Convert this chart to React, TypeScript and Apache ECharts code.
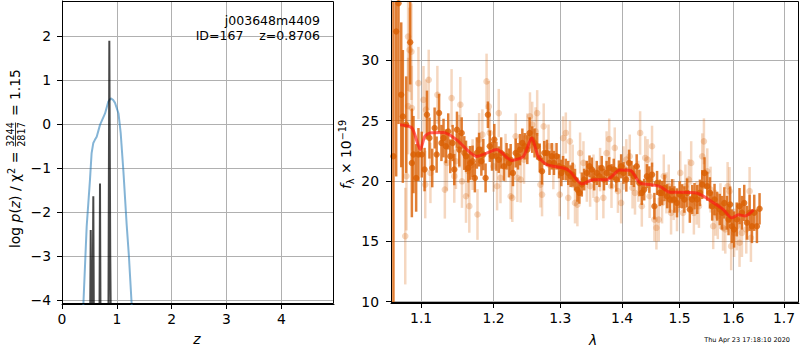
import { useEffect, useRef } from "react";
import * as echarts from "echarts";

const FONT = '"DejaVu Sans", sans-serif';

// ---- left panel: redshift probability ----
const zTicks = [0, 1, 2, 3, 4];
const logpTicks = [-4, -3, -2, -1, 0, 1, 2];
const chi2Z = [0.36, 0.39, 0.45, 0.51, 0.54, 0.571, 0.6, 0.633, 0.693, 0.785, 0.845, 0.89, 0.93, 0.967, 1.03, 1.07, 1.12, 1.18, 1.22, 1.27, 1.3];
const chi2LogP = [-4.9, -4.09, -2.33, -1.27, -0.66, -0.43, -0.36, -0.29, -0.02, 0.24, 0.51, 0.58, 0.55, 0.48, 0.24, -0.2, -1.08, -2.3, -3.0, -4.09, -4.7];
const pzZ = [0.5, 0.524, 0.545, 0.555, 0.571, 0.59, 0.675, 0.693, 0.71, 0.84, 0.863, 0.88, 0.9, 0.92];
const pzLogP = [-7, -2.41, -7, -7, -1.64, -7, -7, -1.35, -7, -7, 1.89, -3.0, -6, -7];

// ---- right panel: spectrum ----
const lamTicks = [1.1, 1.2, 1.3, 1.4, 1.5, 1.6, 1.7];
const fluxTicks = [10, 15, 20, 25, 30];

const darkLam = [
  1.0641, 1.0676, 1.0706, 1.0741, 1.0762, 1.0805, 1.0857, 1.0879, 1.09, 1.0935,
  1.0965, 1.1009, 1.1046, 1.1078, 1.1111, 1.1148, 1.118, 1.1207, 1.124, 1.1272,
  1.13, 1.1332, 1.1364, 1.1392, 1.1424, 1.1447, 1.1484, 1.1516, 1.1549, 1.1585,
  1.1609, 1.1641, 1.1668, 1.1701, 1.1733, 1.1761, 1.1793, 1.1825, 1.1853, 1.1885,
  1.1918, 1.1945, 1.1977, 1.201, 1.204, 1.2074, 1.2109, 1.2149, 1.2188, 1.2223,
  1.2248, 1.2282, 1.2322, 1.2356, 1.2386, 1.2421, 1.2455, 1.2495, 1.253, 1.2569,
  1.2604, 1.2644, 1.2683, 1.2718, 1.2752, 1.2792, 1.2832, 1.2866, 1.2901, 1.2941,
  1.298, 1.3016, 1.3043, 1.3086, 1.3124, 1.3161, 1.3194, 1.3231, 1.3269, 1.3301,
  1.3339, 1.3377, 1.342, 1.3463, 1.35, 1.3538, 1.3581, 1.3624, 1.3662, 1.3699,
  1.3742, 1.3785, 1.3823, 1.386, 1.3903, 1.3946, 1.3984, 1.4024, 1.4071, 1.4118,
  1.4159, 1.42, 1.4247, 1.4294, 1.4335, 1.4376, 1.4423, 1.4465, 1.4512, 1.4553,
  1.46, 1.4647, 1.4688, 1.473, 1.4777, 1.4824, 1.4865, 1.4906, 1.4953, 1.5,
  1.5043, 1.5086, 1.5136, 1.5185, 1.5228, 1.5271, 1.5321, 1.537, 1.5413, 1.5456,
  1.5506, 1.5555, 1.5598, 1.5642, 1.5691, 1.574, 1.5784, 1.5827, 1.5876, 1.5907,
  1.5938, 1.5969, 1.6013, 1.6065, 1.6118, 1.6164, 1.6209, 1.6262, 1.6314, 1.636,
  1.6405, 1.6458, 1.651,
];
const darkFlux = [
  22.04, 32.37, 34.71, 27.13, 25.34, 24.66, 31.49, 21.49, 22.18, 20.25,
  22.18, 22.18, 20.94, 25.48, 23.55, 21.07, 24.38, 22.18, 25.62, 23.14,
  23.55, 22.87, 24.1, 22.04, 23.14, 20.94, 24.24, 22.59, 23.97, 22.31,
  22.04, 21.07, 21.49, 21.63, 20.25, 22.31, 22.59, 21.63, 22.18, 20.25,
  25.48, 22.87, 22.04, 23.42, 22.04, 21.76, 22.31, 21.21, 22.04, 21.49,
  21.76, 20.66, 22.31, 22.04, 22.59, 23.14, 22.87, 22.59, 23.97, 23.42,
  23.14, 22.87, 21.9, 20.8, 22.31, 22.31, 21.49, 22.04, 21.49, 22.04,
  21.21, 20.66, 21.07, 20.94, 20.66, 20.39, 20.52, 20.11, 19.28, 19.01,
  19.7, 20.11, 20.66, 21.21, 20.94, 20.11, 20.66, 20.39, 21.07, 20.11,
  20.66, 21.07, 20.39, 20.94, 20.11, 20.8, 21.21, 20.66, 20.11, 21.49,
  20.66, 20.39, 21.21, 19.83, 19.01, 19.28, 20.39, 20.11, 20.52, 17.91,
  19.83, 19.01, 19.01, 19.42, 18.73, 18.46, 19.15, 18.46, 18.18, 18.87,
  18.73, 18.46, 19.01, 17.63, 18.46, 18.73, 18.46, 19.01, 19.7, 20.66,
  19.56, 19.01, 17.91, 18.46, 17.91, 17.63, 17.36, 18.18, 17.36, 16.8,
  18.04, 16.25, 15.98, 16.8, 17.91, 17.36, 18.18, 16.53, 17.36, 16.25,
  17.36, 16.25, 17.69,
];
const darkErr = [
  14, 12, 10, 6, 5.5, 4, 3.5, 4.5, 3.2, 2.8,
  2.2, 1.9, 1.8, 2.0, 1.7, 1.6, 1.7, 1.5, 1.6, 1.5,
  1.6, 1.4, 1.5, 1.4, 1.5, 1.3, 1.5, 1.4, 1.3, 1.4,
  1.3, 1.2, 1.4, 1.3, 1.2, 1.3, 1.4, 1.2, 1.3, 1.2,
  1.1, 1.3, 1.2, 1.3, 1.2, 1.1, 1.3, 1.2, 1.1, 1.2,
  1.3, 1.1, 1.2, 1.1, 1.3, 1.2, 1.1, 1.2, 1.3, 1.1,
  1.2, 1.1, 1.2, 1.1, 1.0, 1.1, 1.0, 1.1, 1.0, 1.1,
  1.0, 1.1, 1.0, 0.9, 1.0, 0.9, 1.0, 0.9, 1.0, 0.9,
  1.0, 0.9, 1.0, 0.9, 1.0, 0.9, 1.0, 0.9, 1.0, 0.9,
  1.0, 0.9, 1.0, 0.9, 1.0, 0.9, 1.0, 0.9, 1.0, 1.1,
  1.0, 0.9, 1.0, 1.1, 1.0, 0.9, 1.0, 1.1, 1.0, 1.1,
  1.0, 1.1, 1.0, 1.1, 1.0, 1.1, 1.0, 1.1, 1.2, 1.1,
  1.0, 1.1, 1.2, 1.1, 1.2, 1.1, 1.2, 1.1, 1.2, 1.3,
  1.2, 1.3, 1.2, 1.3, 1.2, 1.3, 1.4, 1.3, 1.4, 1.3,
  1.5, 1.4, 1.5, 1.4, 1.5, 1.4, 1.5, 1.4, 1.5, 1.4,
  1.5, 1.4, 1.3,
];

const lightLam = [
  1.0808, 1.083, 1.083, 1.0873,
  1.0793, 1.0849, 1.0879, 1.0965, 1.1032, 1.1055, 1.1065, 1.1101, 1.1124, 1.1217,
  1.1318, 1.1346, 1.141, 1.1447, 1.147, 1.1516, 1.153, 1.1553, 1.1609, 1.1641,
  1.1655, 1.1701, 1.177, 1.1793, 1.1839, 1.1899, 1.1931, 1.1945, 1.2, 1.205,
  1.2074, 1.2099, 1.2173, 1.2248, 1.2272, 1.2322, 1.2347, 1.2396, 1.2446, 1.2495,
  1.2535, 1.2569, 1.2619, 1.2644, 1.2693, 1.2718, 1.2743, 1.2817, 1.2891, 1.299,
  1.3043, 1.3086, 1.3124, 1.3151, 1.3194, 1.3231, 1.3269, 1.3312, 1.3366, 1.342,
  1.3473, 1.3527, 1.3581, 1.3635, 1.3689, 1.3742, 1.3785, 1.3823, 1.3877, 1.393,
  1.3984, 1.4024, 1.4071, 1.4129, 1.4176, 1.4218, 1.4276, 1.4306, 1.4335, 1.4394,
  1.4435, 1.447, 1.4512, 1.4553, 1.4588, 1.4629, 1.4688, 1.4718, 1.4765, 1.4806,
  1.4847, 1.4894, 1.4953, 1.5012, 1.5062, 1.5105, 1.5167, 1.521, 1.5259, 1.5308,
  1.5352, 1.5413, 1.5444, 1.5506, 1.5568, 1.5617, 1.566, 1.5703, 1.5753, 1.5802,
  1.5845, 1.5889, 1.5926, 1.5957, 1.6013, 1.6065, 1.6118, 1.6164, 1.6249, 1.6314,
  1.634,
];
const lightFlux = [
  20.4, 31.95, 26.2, 30.7,
  15.43, 30.85, 26.03, 28.1, 26.72, 19.7, 25.9, 28.37, 20.66, 27.13,
  19.28, 21.49, 26.86, 20.39, 21.63, 23.28, 26.31, 19.97, 18.73, 20.8,
  17.91, 21.35, 17.22, 23.42, 23.83, 28.24, 26.17, 23.97, 21.21, 19.56,
  25.62, 20.25, 21.9, 18.73, 18.6, 23.69, 20.25, 20.11, 21.76, 23.69,
  25.34, 24.66, 24.1, 25.62, 19.7, 18.87, 24.52, 22.87, 21.21, 18.87,
  23.55, 23.97, 18.6, 23.28, 21.21, 18.18, 18.04, 22.31, 21.49, 19.97,
  19.56, 20.39, 18.46, 20.94, 18.6, 22.31, 23.47, 19.56, 22.73, 19.15,
  18.18, 21.07, 21.76, 22.04, 19.42, 19.01, 19.97, 23.97, 17.91, 21.9,
  21.76, 18.73, 22.87, 16.8, 16.12, 16.8, 18.18, 20.39, 19.01, 19.56,
  17.36, 18.46, 17.63, 20.66, 17.36, 19.56, 20.11, 21.49, 17.36, 18.18,
  17.91, 22.04, 23.28, 20.8, 19.28, 16.25, 17.36, 17.08, 17.91, 16.12,
  15.98, 19.56, 19.15, 14.6, 15.7, 16.25, 14.88, 15.7, 15.98, 19.15,
  15.29,
];
const lightErr = [
  4.5, 4.5, 4, 4,
  4, 3.5, 3.5, 3, 2.8, 2.8, 2.5, 2.5, 2.5, 2.4,
  2.4, 2.3, 2.4, 2.2, 2.3, 2.2, 2.3, 2.2, 2.2, 2.1,
  2.2, 2.1, 2.1, 2.2, 2.1, 2.3, 2.1, 2.0, 2.1, 2.0,
  2.0, 2.1, 2.0, 1.9, 2.0, 1.9, 2.0, 1.9, 2.0, 1.9,
  2.0, 1.9, 2.0, 1.9, 1.9, 1.8, 1.9, 1.8, 1.9, 1.8,
  1.8, 1.7, 1.8, 1.7, 1.8, 1.7, 1.8, 1.7, 1.8, 1.7,
  1.7, 1.8, 1.7, 1.8, 1.7, 1.8, 1.7, 1.8, 1.7, 1.8,
  1.7, 1.8, 1.7, 1.8, 1.7, 1.8, 1.7, 1.8, 1.7, 1.8,
  1.7, 1.8, 1.7, 1.8, 1.8, 1.8, 1.7, 1.8, 1.7, 1.8,
  1.8, 1.7, 1.8, 1.8, 1.7, 1.8, 1.7, 1.8, 1.8, 1.8,
  1.8, 1.9, 1.9, 1.9, 1.9, 1.9, 1.9, 1.9, 1.9, 1.9,
  2.0, 2.0, 2.0, 2.0, 2.0, 2.0, 2.0, 2.0, 2.0, 2.0,
  2.0,
];

const modelLam = [
  1.0726, 1.088, 1.099, 1.105, 1.112, 1.13, 1.148, 1.176, 1.19, 1.2045,
  1.2264, 1.2436, 1.2562, 1.266, 1.279, 1.3047, 1.315, 1.3258, 1.3338, 1.3525,
  1.3744, 1.3964, 1.4133, 1.4303, 1.4476, 1.465, 1.4827, 1.5006, 1.531, 1.562,
  1.5808, 1.5968, 1.6096, 1.6225, 1.639,
];
const modelFlux = [
  24.65, 24.38, 22.6, 23.7, 23.97, 24.0, 23.4, 22.03, 22.3, 22.6,
  21.7, 22.03, 23.55, 22.03, 21.35, 21.07, 20.8, 20.1, 19.75, 20.1,
  20.1, 20.9, 20.88, 19.83, 19.7, 19.55, 19.06, 19.06, 19.0, 18.2,
  17.63, 16.94, 17.2, 17.1, 17.6,
];

const titleLines = ["j003648m4409", "ID=167    z=0.8706"];
const timestamp = "Thu Apr 23 17:18:10 2020";

const minusFmt = (v: number) => (v < 0 ? "\u2212" + Math.abs(v) : String(v));

function errSeries(lam: number[], flux: number[], err: number[], color: string, z: number, lw: number, r: number) {
  return {
    type: "custom",
    xAxisIndex: 1,
    yAxisIndex: 1,
    z,
    silent: true,
    data: lam.map((l, i) => [Math.log(l), flux[i], err[i]]),
    renderItem: (params: any, api: any) => {
      const cs = params.coordSys;
      const lx = api.value(0);
      const f = api.value(1);
      const e = api.value(2);
      const p = api.coord([lx, f]);
      const hi = api.coord([lx, f + e]);
      const lo = api.coord([lx, f - e]);
      const top = Math.max(cs.y, hi[1]);
      const bot = Math.min(cs.y + cs.height, lo[1]);
      const children: any[] = [];
      if (bot > top) {
        children.push({
          type: "line",
          shape: { x1: p[0], y1: top, x2: p[0], y2: bot },
          style: { stroke: color, lineWidth: lw },
        });
      }
      if (p[1] >= cs.y && p[1] <= cs.y + cs.height) {
        children.push({
          type: "circle",
          shape: { cx: p[0], cy: p[1], r },
          style: { fill: color },
        });
      }
      return { type: "group", children };
    },
  };
}

const tickLabel = { fontFamily: FONT, fontSize: 13.9, color: "#000" };

const PANELS = [
  { left: 62, top: 1, width: 272, height: 303 },
  { left: 391, top: 1, width: 408, height: 302 },
];

export default function App() {
  const ref = useRef<HTMLDivElement>(null);
  useEffect(() => {
    if (!ref.current) return;
    const chart = echarts.init(ref.current, null, { renderer: "svg" });
    const lamMin = Math.log(1.061);
    const lamMax = Math.log(1.731);
    const lamLogTicks = lamTicks.map((t) => Math.log(t));
    const gridLine = { show: true, lineStyle: { color: "#b0b0b0", width: 1 } };
    const axisLine = { show: true, onZero: false, lineStyle: { color: "#000", width: 1 } };
    const axisTick = (vals: number[]) => ({
      show: true,
      inside: false,
      length: 5,
      lineStyle: { color: "#000", width: 1 },
      customValues: vals,
    });
    const option: any = {
      animation: false,
      backgroundColor: "#fff",
      grid: PANELS,
      xAxis: [
        {
          type: "value",
          gridIndex: 0,
          min: 0,
          max: 4.96,
          axisLine,
          axisTick: axisTick(zTicks),
          axisLabel: { ...tickLabel, margin: 8, customValues: zTicks, formatter: (v: number) => minusFmt(v) },
          splitLine: gridLine,
        },
        {
          type: "value",
          gridIndex: 1,
          min: lamMin,
          max: lamMax,
          axisLine,
          axisTick: axisTick(lamLogTicks),
          axisLabel: { ...tickLabel, margin: 8, customValues: lamLogTicks, formatter: (v: number) => Math.exp(v).toFixed(1) },
          splitLine: gridLine,
        },
      ],
      yAxis: [
        {
          type: "value",
          gridIndex: 0,
          min: -4.09,
          max: 2.795,
          axisLine,
          axisTick: axisTick(logpTicks),
          axisLabel: { ...tickLabel, margin: 11, customValues: logpTicks, formatter: (v: number) => minusFmt(v) },
          splitLine: gridLine,
        },
        {
          type: "value",
          gridIndex: 1,
          min: 9.89,
          max: 34.9,
          axisLine,
          axisTick: axisTick(fluxTicks),
          axisLabel: { ...tickLabel, margin: 12, customValues: fluxTicks },
          splitLine: gridLine,
        },
      ],
      series: [
        {
          type: "line",
          xAxisIndex: 0,
          yAxisIndex: 0,
          data: chi2Z.map((z, i) => [z, chi2LogP[i]]),
          showSymbol: false,
          lineStyle: { color: "rgba(31,119,180,0.55)", width: 2 },
          clip: true,
          silent: true,
          z: 2,
        },
        {
          type: "line",
          xAxisIndex: 0,
          yAxisIndex: 0,
          data: pzZ.map((z, i) => [z, pzLogP[i]]),
          showSymbol: false,
          lineStyle: { color: "rgba(0,0,0,0.72)", width: 2 },
          clip: true,
          silent: true,
          z: 3,
        },
        errSeries(lightLam, lightFlux, lightErr, "rgba(217,95,2,0.25)", 2, 2.5, 3.3),
        errSeries(darkLam, darkFlux, darkErr, "rgba(217,95,2,0.8)", 3, 2.5, 3.2),
        {
          type: "line",
          xAxisIndex: 1,
          yAxisIndex: 1,
          data: modelLam.map((l, i) => [Math.log(l), modelFlux[i]]),
          showSymbol: false,
          smooth: 0.25,
          lineStyle: { color: "rgba(255,20,20,0.65)", width: 3 },
          clip: true,
          silent: true,
          z: 4,
        },
      ],
      graphic: [
        ...PANELS.map((p) => ({
          type: "rect",
          z: 90,
          silent: true,
          shape: { x: p.left + 0.5, y: p.top + 0.5, width: p.width - 1, height: p.height - 1 },
          style: { fill: "none", stroke: "#000", lineWidth: 1 },
        })),
        {
          type: "text",
          z: 100,
          x: 320,
          y: 20,
          style: { text: titleLines[0], font: `12.5px ${FONT}`, fill: "#000", align: "right", verticalAlign: "middle" },
        },
        {
          type: "text",
          z: 100,
          x: 320,
          y: 35,
          style: { text: titleLines[1], font: `12.5px ${FONT}`, fill: "#000", align: "right", verticalAlign: "middle" },
        },
        {
          type: "text",
          z: 100,
          x: 197,
          y: 339,
          style: { text: "z", fontFamily: FONT, fontSize: 13.9, fontStyle: "italic", fill: "#000", align: "center", verticalAlign: "middle" },
        },
        {
          type: "text",
          z: 100,
          x: 593,
          y: 340,
          style: { text: "\u03bb", fontFamily: FONT, fontSize: 13.9, fontStyle: "italic", fill: "#000", align: "center", verticalAlign: "middle" },
        },
        {
          type: "text",
          z: 100,
          x: 790,
          y: 340,
          style: { text: timestamp, font: `6.5px ${FONT}`, fill: "#000", align: "right", verticalAlign: "middle" },
        },
        {
          type: "group",
          z: 100,
          x: 15,
          y: 158,
          rotation: Math.PI / 2,
          children: [
            {
              type: "text",
              x: -90,
              y: 0,
              style: {
                text: "{n|log }{i|p}{n|(}{i|z}{n|) / }{n|\u03c7}{s|2}{n| = }",
                align: "left",
                verticalAlign: "middle",
                rich: {
                  n: { fontFamily: FONT, fontSize: 13.9, fill: "#000", lineHeight: 18, verticalAlign: "middle" },
                  i: { fontFamily: FONT, fontSize: 13.9, fontStyle: "italic", fill: "#000", lineHeight: 18, verticalAlign: "middle" },
                  s: { fontFamily: FONT, fontSize: 9.7, fill: "#000", lineHeight: 10, verticalAlign: "top" },
                },
              },
            },
            {
              type: "text",
              x: 23.5,
              y: -5,
              style: { text: "3244", font: `9.7px ${FONT}`, fill: "#000", align: "center", verticalAlign: "middle" },
            },
            {
              type: "line",
              shape: { x1: 11.5, y1: 0.5, x2: 35.5, y2: 0.5 },
              style: { stroke: "#000", lineWidth: 0.8 },
            },
            {
              type: "text",
              x: 23.5,
              y: 6,
              style: { text: "2817", font: `9.7px ${FONT}`, fill: "#000", align: "center", verticalAlign: "middle" },
            },
            {
              type: "text",
              x: 37.5,
              y: 0,
              style: { text: " = 1.15", font: `13.9px ${FONT}`, fill: "#000", align: "left", verticalAlign: "middle" },
            },
          ],
        },
        {
          type: "group",
          z: 100,
          x: 346,
          y: 154.5,
          rotation: Math.PI / 2,
          children: [
            {
              type: "text",
              x: 0,
              y: 0,
              style: {
                text: "{i|f}{b|\u03bb}{n| \u00d7 10}{s|\u221219}",
                align: "center",
                verticalAlign: "middle",
                rich: {
                  n: { fontFamily: FONT, fontSize: 13.9, fill: "#000", lineHeight: 18, verticalAlign: "middle" },
                  i: { fontFamily: FONT, fontSize: 13.9, fontStyle: "italic", fill: "#000", lineHeight: 18, verticalAlign: "middle" },
                  s: { fontFamily: FONT, fontSize: 9.7, fill: "#000", lineHeight: 10, verticalAlign: "top" },
                  b: { fontFamily: FONT, fontSize: 9.7, fill: "#000", lineHeight: 10, verticalAlign: "bottom" },
                },
              },
            },
          ],
        },
      ],
    };
    chart.setOption(option);
    return () => chart.dispose();
  }, []);
  return <div ref={ref} style={{ position: "absolute", left: 0, top: 0, width: 800, height: 350 }} />;
}
